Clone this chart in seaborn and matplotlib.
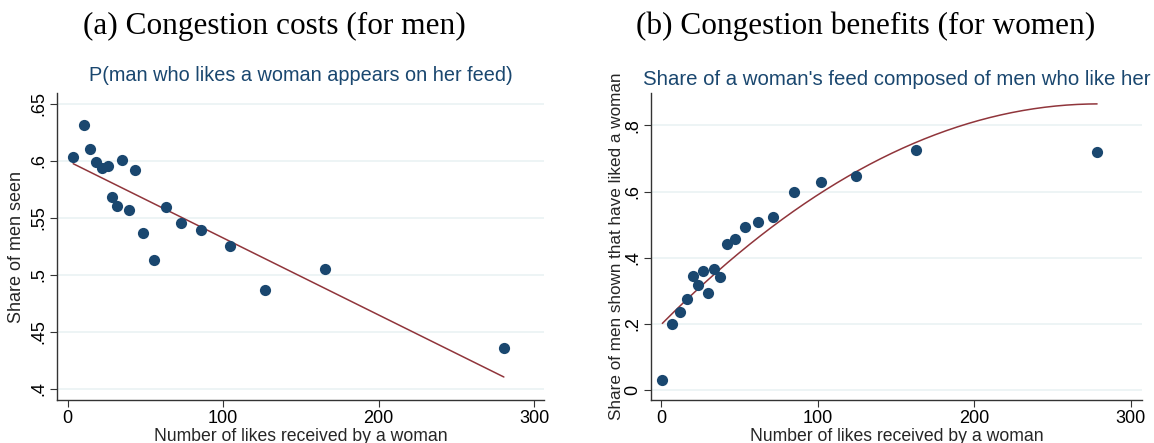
import numpy as np
import pandas as pd
import matplotlib
matplotlib.use('Agg')
import matplotlib.pyplot as plt
import seaborn as sns

# panel (a): share of men seen, by likes received
likes_a = [3.5, 10.6, 14.5, 18.4, 21.9, 25.6, 28.6, 31.6, 35.0, 39.2,
           43.3, 48.2, 55.5, 62.9, 72.6, 85.9, 104.1, 126.7, 165.2, 280.6]
seen_a = [.603, .631, .610, .599, .594, .595, .568, .560, .601, .557,
          .5915, .537, .5126, .5596, .5456, .539, .525, .487, .505, .436]
fit_a = [.5998, -6.751e-4]  # intercept, slope (linear fit)

# panel (b): share of feed made of men who liked her
likes_b = [0.9, 7.2, 12.4, 16.4, 20.6, 23.8, 27.1, 29.9, 33.6, 37.9,
           42.3, 47.0, 53.5, 61.7, 71.3, 84.8, 102.1, 124.8, 163.1, 278.5]
share_b = [.029, .200, .237, .275, .345, .318, .360, .293, .365, .341,
           .440, .457, .492, .509, .524, .599, .630, .648, .725, .719]
fit_b = [.1972, .004778, -8.547e-6]  # quadratic fit

navy = '#1a476f'
maroon = '#90353b'
grid_c = '#eaf2f3'

sns.set_style('white')
plt.rcParams['font.family'] = ['Liberation Sans', 'DejaVu Sans']

fig = plt.figure(figsize=(11.54, 4.43), dpi=100)
ax1 = fig.add_axes([0.0497, 0.0971, 0.4218, 0.6923])
ax2 = fig.add_axes([0.5639, 0.0971, 0.4260, 0.6923])

df_a = pd.DataFrame({'x': likes_a, 'y': seen_a})
df_b = pd.DataFrame({'x': likes_b, 'y': share_b})

xa = np.linspace(min(likes_a), max(likes_a), 100)
fa = pd.DataFrame({'x': xa, 'y': fit_a[0] + fit_a[1] * xa})
xb = np.linspace(min(likes_b), max(likes_b), 200)
fb = pd.DataFrame({'x': xb, 'y': fit_b[0] + fit_b[1] * xb + fit_b[2] * xb ** 2})

sns.scatterplot(data=df_a, x='x', y='y', ax=ax1, color=navy, s=65,
                edgecolor=navy, linewidth=0, zorder=3)
sns.lineplot(data=fa, x='x', y='y', ax=ax1, color=maroon, lw=1.1, zorder=2)
sns.scatterplot(data=df_b, x='x', y='y', ax=ax2, color=navy, s=65,
                edgecolor=navy, linewidth=0, zorder=3)
sns.lineplot(data=fb, x='x', y='y', ax=ax2, color=maroon, lw=1.1, zorder=2)

ax1.set_xlim(-6.7, 306.5)
ax1.set_ylim(.3902, .6592)
ax1.set_yticks([.4, .45, .5, .55, .6, .65])
ax1.set_yticklabels(['.4', '.45', '.5', '.55', '.6', '.65'])
ax1.set_ylabel('Share of men seen', fontsize=13, labelpad=4)

ax2.set_xlim(-6.5, 307.4)
ax2.set_ylim(-.030, .897)
ax2.set_yticks([0, .2, .4, .6, .8])
ax2.set_yticklabels(['0', '.2', '.4', '.6', '.8'])
ax2.set_ylabel('Share of men shown that have liked a woman', fontsize=12.3, labelpad=0)

for ax in (ax1, ax2):
    ax.set_xticks([0, 100, 200, 300])
    ax.set_xlabel('Number of likes received by a woman', fontsize=12.7, labelpad=1)
    ax.grid(axis='y', color=grid_c, lw=1.2)
    ax.grid(axis='x', visible=False)
    ax.set_axisbelow(True)
    sns.despine(ax=ax)
    for s in ('left', 'bottom'):
        ax.spines[s].set_color('#333333')
        ax.spines[s].set_linewidth(1.0)
    ax.tick_params(axis='both', direction='out', length=5, width=0.8,
                   color='#333333', labelcolor='black', labelsize=13, pad=2,
                   left=True, bottom=True)
    for t in ax.get_yticklabels():
        t.set_rotation(90)
        t.set_va('center')

ax1.set_title('P(man who likes a woman appears on her feed)', fontsize=14.3,
              color=navy, pad=9)
ax2.set_title("Share of a woman's feed composed of men who like her", fontsize=14.7,
              color=navy, pad=6)

fig.text(274 / 1154, 1 - 26 / 443, '(a) Congestion costs (for men)',
         family='Liberation Serif', fontsize=22.5, color='black',
         ha='center', va='center')
fig.text(866 / 1154, 1 - 26 / 443, '(b) Congestion benefits (for women)',
         family='Liberation Serif', fontsize=22.5, color='black',
         ha='center', va='center')

fig.savefig('out.png', dpi=100)
